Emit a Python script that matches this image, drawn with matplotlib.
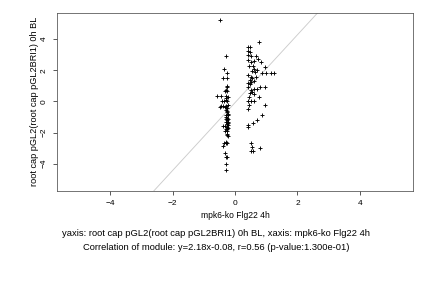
import numpy as np
import matplotlib.pyplot as plt

plt.rcParams['font.family'] = ['Liberation Sans', 'DejaVu Sans']

# left cluster (x ~ -0.3)
left_x = [-0.48, -0.28, -0.34, -0.25, -0.39, -0.26, -0.25, -0.27, -0.30, -0.33,
          -0.26, -0.59, -0.44, -0.28, -0.24, -0.30, -0.36, -0.30, -0.25, -0.42,
          -0.45, -0.38, -0.33, -0.28, -0.48, -0.22, -0.30, -0.25, -0.27, -0.28,
          -0.24, -0.30, -0.26, -0.23, -0.27, -0.29, -0.24, -0.26, -0.22, -0.31,
          -0.37, -0.27, -0.24, -0.29, -0.26, -0.32, -0.27, -0.23, -0.36, -0.28,
          -0.30, -0.26, -0.40, -0.31, -0.28, -0.25, -0.29, -0.29, -0.25, -0.28,
          -0.22, -0.27, -0.25, -0.23]
left_y = [5.2, 2.9, 2.1, 1.8, 1.5, 1.5, 1.0, 0.9, 0.75, 0.65,
          0.7, 0.32, 0.32, 0.35, 0.3, 0.2, 0.05, 0.1, 0.0, 0.0,
          -0.3, -0.3, -0.35, -0.3, -0.35, -0.25, -0.55, -0.6, -0.7, -0.85,
          -0.9, -1.0, -1.05, -1.1, -1.2, -1.3, -1.35, -1.45, -1.5, -1.55,
          -1.6, -1.65, -1.7, -1.8, -1.9, -1.9, -2.15, -2.25, -2.65, -2.6,
          -2.7, -2.7, -2.85, -3.3, -3.55, -3.6, -4.0, -4.4, -0.45, -1.15,
          -0.8, -1.75, -2.1, -1.4]

# right cluster (x ~ 0.5)
right_x = [0.78, 0.43, 0.48, 0.43, 0.48, 0.43, 0.50, 0.68, 0.74, 0.83,
           0.42, 0.52, 0.60, 0.97, 0.58, 0.62, 0.70, 0.65, 1.00, 1.15,
           1.25, 0.88, 0.43, 0.50, 0.47, 0.55, 0.60, 0.43, 0.48, 0.52,
           0.97, 0.43, 0.50, 0.60, 0.72, 0.80, 0.55, 0.78, 0.45, 0.60,
           0.43, 0.50, 0.62, 0.43, 0.97, 0.85, 0.69, 0.58, 0.43, 0.43,
           0.50, 0.53, 0.81, 0.52, 0.58, 0.46, 0.54, 0.49, 0.66, 0.45]
right_y = [3.8, 3.5, 3.5, 3.25, 3.2, 2.95, 2.9, 2.9, 2.7, 2.5,
           2.65, 2.55, 2.6, 2.2, 2.3, 2.1, 2.0, 1.9, 1.8, 1.8,
           1.8, 1.8, 1.7, 1.6, 1.4, 1.5, 1.3, 1.2, 1.1, 1.25,
           0.95, 0.9, 0.75, 0.8, 0.8, 0.9, 0.6, 0.3, 0.3, 0.45,
           0.05, 0.05, 0.05, -0.5, -0.2, -0.9, -1.2, -1.4, -1.5, -1.65,
           -2.7, -2.9, -3.0, -3.2, -3.2, 2.3, 1.95, 0.55, 1.55, -0.2]

slope, intercept = 2.18, -0.08
xticks = [-4, -2, 0, 2, 4]
yticks = [-4, -2, 0, 2, 4]

fig = plt.figure(figsize=(6, 4), dpi=72)
ax = fig.add_axes([0.132, 0.337, 0.824, 0.619])

lx = np.array([-6.0, 6.0])
ax.plot(lx, slope * lx + intercept, color='#cccccc', lw=0.9, zorder=1)
ax.scatter(left_x + right_x, left_y + right_y, marker='+', s=22, c='black',
           linewidths=0.9, zorder=2)

ax.set_xlim(-5.7, 5.7)
ax.set_ylim(-5.75, 5.7)
ax.set_xticks(xticks)
ax.set_yticks(yticks)
ax.tick_params(labelsize=8.3, length=4, width=0.8, color='#333333', pad=5)
for lab in ax.get_yticklabels():
    lab.set_rotation(90)
    lab.set_va('center')
for sp in ax.spines.values():
    sp.set_color('#555555')
    sp.set_linewidth(0.8)

ax.set_xlabel('mpk6-ko Flg22 4h', fontsize=8.5, labelpad=4)
ax.set_ylabel('root cap pGL2(root cap pGL2BRI1) 0h BL', fontsize=9.1, labelpad=2)

fig.text(0.5, 1 - 233 / 288, 'yaxis: root cap pGL2(root cap pGL2BRI1) 0h BL, xaxis: mpk6-ko Flg22 4h',
         ha='center', va='center', fontsize=9.4)
fig.text(0.5, 1 - 248 / 288, 'Correlation of module: y=2.18x-0.08, r=0.56 (p-value:1.300e-01)',
         ha='center', va='center', fontsize=9.4)

fig.savefig('out.png', dpi=72)
